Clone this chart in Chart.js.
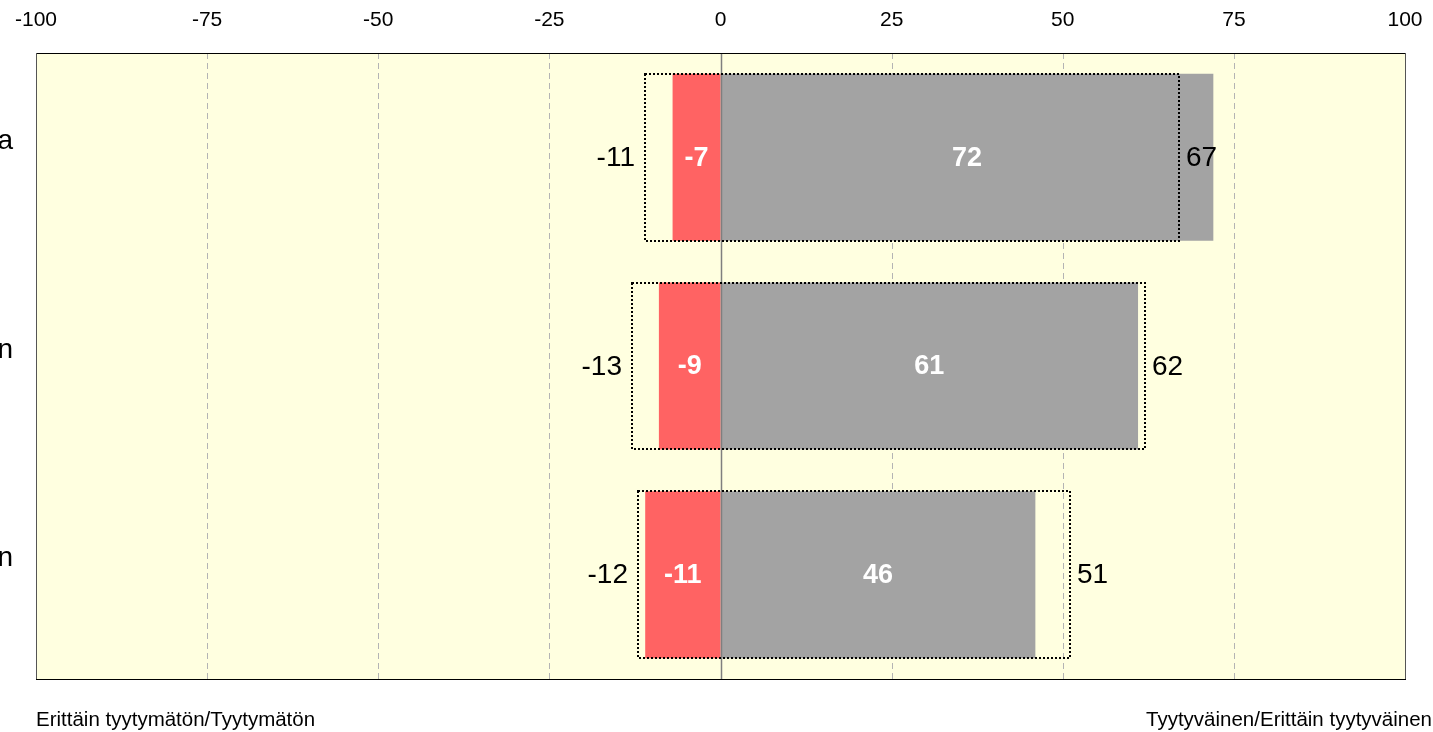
<!DOCTYPE html>
<html>
<head>
<meta charset="utf-8">
<script src="https://cdn.jsdelivr.net/npm/chart.js@4/dist/chart.umd.min.js"></script>
<style>
html,body{margin:0;padding:0;background:#ffffff;}
#wrap{position:relative;width:1433px;height:732px;}
</style>
</head>
<body>
<div id="wrap"><canvas id="c" width="1433" height="732"></canvas></div>
<script>
// ---- data ----
const categories = ['a', 'n', 'n'];
const negativeValues = [-7, -9, -11];      // Erittäin tyytymätön/Tyytymätön
const positiveValues = [72, 61, 46];       // Tyytyväinen/Erittäin tyytyväinen
const compareNegative = [-11, -13, -12];   // dotted comparison box, left
const comparePositive = [67, 62, 51];      // dotted comparison box, right
const xTickValues = [-100, -75, -50, -25, 0, 25, 50, 75, 100];
const leftCaption = 'Erittäin tyytymätön/Tyytymätön';
const rightCaption = 'Tyytyväinen/Erittäin tyytyväinen';

const FONT = '"Liberation Sans", Arial, sans-serif';

const comparePairs = compareNegative.map((v, i) => [v, comparePositive[i]]);

const decorPlugin = {
  id: 'decor',
  beforeDatasetsDraw(chart) {
    const {ctx, chartArea: a, scales: {x}} = chart;
    ctx.save();
    ctx.fillStyle = '#FFFFE0';
    ctx.fillRect(a.left, a.top, a.right - a.left, a.bottom - a.top);
    ctx.strokeStyle = '#b4b4b4';
    ctx.lineWidth = 1;
    ctx.setLineDash([6, 4]);
    xTickValues.forEach(v => {
      if (v === 0 || v === xTickValues[0] || v === xTickValues[xTickValues.length - 1]) return;
      const px = Math.round(x.getPixelForValue(v)) + 0.5;
      ctx.beginPath();
      ctx.moveTo(px, a.top);
      ctx.lineTo(px, a.bottom);
      ctx.stroke();
    });
    ctx.restore();
  },
  afterDatasetsDraw(chart) {
    const {ctx, chartArea: a, scales: {x, y}} = chart;
    ctx.save();
    // zero line
    const zx = Math.round(x.getPixelForValue(0)) + 0.5;
    ctx.strokeStyle = '#7f7f7f';
    ctx.lineWidth = 1.5;
    ctx.setLineDash([]);
    ctx.beginPath();
    ctx.moveTo(zx, a.top);
    ctx.lineTo(zx, a.bottom);
    ctx.stroke();

    // dotted comparison boxes
    const meta = chart.getDatasetMeta(2);
    ctx.strokeStyle = '#000000';
    ctx.lineWidth = 2;
    ctx.setLineDash([2, 2]);
    meta.data.forEach((el, i) => {
      const p = el.getProps(['x', 'y', 'base', 'height'], true);
      const l = Math.round(Math.min(p.x, p.base)), r = Math.round(Math.max(p.x, p.base));
      const t = Math.round(p.y - p.height / 2), b = Math.round(p.y + p.height / 2);
      ctx.strokeRect(l, t, r - l, b - t);
      // outside labels
      ctx.fillStyle = '#000000';
      ctx.font = '28px ' + FONT;
      ctx.textBaseline = 'middle';
      ctx.textAlign = 'right';
      ctx.fillText(String(compareNegative[i]), l - 10, p.y + 1);
      ctx.textAlign = 'left';
      ctx.fillText(String(comparePositive[i]), r + 7, p.y + 1);
    });

    // value labels inside bars
    ctx.setLineDash([]);
    ctx.font = 'bold 27px ' + FONT;
    ctx.fillStyle = '#ffffff';
    ctx.textAlign = 'center';
    ctx.textBaseline = 'middle';
    [0, 1].forEach(di => {
      const m = chart.getDatasetMeta(di);
      const vals = di === 0 ? negativeValues : positiveValues;
      m.data.forEach((el, i) => {
        const p = el.getProps(['x', 'y', 'base'], true);
        ctx.fillText(String(vals[i]), (p.x + p.base) / 2, p.y + 1);
      });
    });

    // plot border
    ctx.lineWidth = 1;
    ctx.strokeStyle = '#000000';
    ctx.strokeRect(Math.round(a.left) + 0.5, Math.round(a.top) + 0.5, Math.round(a.right - a.left), Math.round(a.bottom - a.top));
    ctx.strokeStyle = '#555555';
    ctx.beginPath();
    ctx.moveTo(Math.round(a.left) + 0.5, a.top);
    ctx.lineTo(Math.round(a.left) + 0.5, a.bottom);
    ctx.moveTo(Math.round(a.right) + 0.5, a.top);
    ctx.lineTo(Math.round(a.right) + 0.5, a.bottom);
    ctx.stroke();

    // category labels (clipped at the left edge)
    ctx.fillStyle = '#000000';
    ctx.font = '28px ' + FONT;
    ctx.textAlign = 'right';
    ctx.textBaseline = 'middle';
    categories.forEach((c, i) => {
      ctx.fillText(c, 13, y.getPixelForValue(i) - 16);
    });

    // bottom captions
    ctx.font = '20.5px ' + FONT;
    ctx.textBaseline = 'middle';
    ctx.textAlign = 'left';
    ctx.fillText(leftCaption, a.left, 720);
    ctx.textAlign = 'right';
    ctx.fillText(rightCaption, chart.width - 1, 720);
    ctx.restore();
  }
};

new Chart(document.getElementById('c'), {
  type: 'bar',
  data: {
    labels: categories,
    datasets: [
      {label: 'neg', data: negativeValues, backgroundColor: '#FF6363', borderWidth: 0, categoryPercentage: 0.8, barPercentage: 1},
      {label: 'pos', data: positiveValues, backgroundColor: '#A3A3A3', borderWidth: 0, categoryPercentage: 0.8, barPercentage: 1},
      {label: 'cmp', data: comparePairs, backgroundColor: 'rgba(0,0,0,0)', borderWidth: 0, categoryPercentage: 0.8, barPercentage: 1}
    ]
  },
  options: {
    indexAxis: 'y',
    responsive: false,
    devicePixelRatio: 1,
    animation: false,
    grouped: false,
    layout: {padding: {top: 0, right: 28, bottom: 53, left: 0}},
    plugins: {legend: {display: false}, tooltip: {enabled: false}},
    scales: {
      x: {
        position: 'top',
        min: xTickValues[0],
        max: xTickValues[xTickValues.length - 1],
        afterBuildTicks(scale) { scale.ticks = xTickValues.map(v => ({value: v})); },
        afterFit(scale) { scale.height = 53; scale.paddingLeft = 0; scale.paddingRight = 0; },
        grid: {display: false, drawTicks: false},
        border: {display: false},
        ticks: {color: '#000000', font: {family: FONT, size: 21}, padding: 20, maxRotation: 0, autoSkip: false}
      },
      y: {
        grid: {display: false, drawTicks: false},
        border: {display: false},
        ticks: {display: false},
        afterFit(scale) { scale.width = 36; }
      }
    }
  },
  plugins: [decorPlugin]
});
</script>
</body>
</html>
